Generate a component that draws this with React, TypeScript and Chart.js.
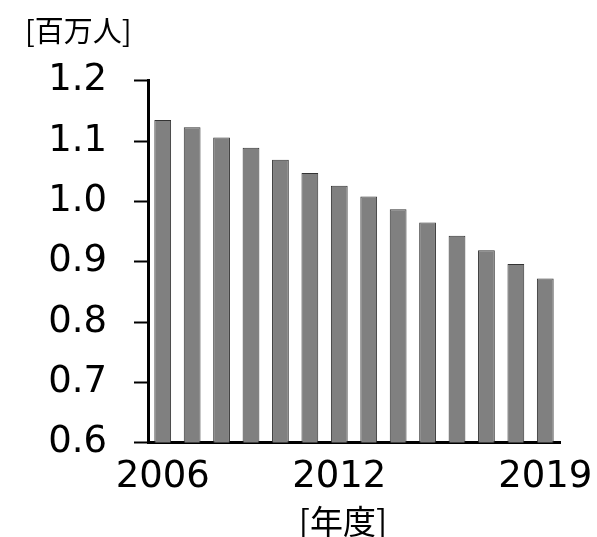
import React, { useEffect, useRef } from "react";
import { Chart, registerables } from "chart.js";

Chart.register(...registerables);

const years = ["2006", "2007", "2008", "2009", "2010", "2011", "2012", "2013", "2014", "2015", "2016", "2017", "2018", "2019"];
const values = [1.135, 1.123, 1.106, 1.089, 1.069, 1.047, 1.026, 1.008, 0.987, 0.965, 0.943, 0.919, 0.896, 0.872];
const shownYears = ["2006", "2012", "2019"];
const yMin = 0.6;
const yMax = 1.2;
const yStep = 0.1;
const yUnit = "[百万人]";
const xUnit = "[年度]";

const NUM_FONT = "'DejaVu Sans', Verdana, sans-serif";
const CJK_FONT = "'Noto Sans CJK JP', 'Noto Sans', sans-serif";

// draws the x-axis unit label centred slightly left of the plot centre, as in the source
const xUnitPlugin = {
  id: "xUnitLabel",
  afterDraw(chart: any) {
    const { ctx, chartArea, scales } = chart;
    const cx = (chartArea.left + chartArea.right) / 2 - 11;
    const cy = scales.x.bottom + 8;
    ctx.save();
    ctx.font = `33px ${CJK_FONT}`;
    ctx.fillStyle = "#000";
    ctx.textAlign = "center";
    ctx.textBaseline = "middle";
    ctx.fillText(xUnit, cx, cy);
    ctx.restore();
  },
};

export default function App() {
  const ref = useRef<HTMLCanvasElement | null>(null);

  useEffect(() => {
    if (!ref.current) return;
    const chart = new Chart(ref.current, {
      type: "bar",
      data: {
        labels: years,
        datasets: [
          {
            data: values,
            backgroundColor: "#808080",
            borderColor: "#333333",
            borderWidth: 1,
            barPercentage: 0.57,
            categoryPercentage: 1,
          },
        ],
      },
      plugins: [xUnitPlugin],
      options: {
        animation: false,
        responsive: false,
        devicePixelRatio: 1,
        layout: { padding: { left: 25, right: 37, top: 0, bottom: 47 } },
        plugins: {
          legend: { display: false },
          tooltip: { enabled: false },
          title: {
            display: true,
            text: yUnit,
            align: "start",
            color: "#000",
            font: { family: CJK_FONT, size: 29, weight: "normal" },
            padding: { top: 14, bottom: 32 },
          },
        },
        scales: {
          x: {
            type: "category",
            offset: true,
            grid: { display: true, drawOnChartArea: false, drawTicks: false },
            border: { display: true, color: "#000", width: 3 },
            ticks: {
              autoSkip: false,
              maxRotation: 0,
              minRotation: 0,
              color: "#000",
              padding: 13,
              font: { family: NUM_FONT, size: 37 },
              callback: (_v: any, i: number) => (shownYears.includes(years[i]) ? years[i] : ""),
            },
            afterFit: (s: any) => {
              s.paddingLeft = 0;
              s.paddingRight = 0;
            },
          },
          y: {
            min: yMin,
            max: yMax,
            grid: { display: true, drawOnChartArea: false, drawTicks: true, tickLength: 14, tickWidth: 2, tickColor: "#000" },
            border: { display: true, color: "#000", width: 3 },
            ticks: {
              stepSize: yStep,
              color: "#000",
              padding: 27,
              font: { family: NUM_FONT, size: 37 },
              callback: (v: any) => Number(v).toFixed(1),
            },
            afterFit: (s: any) => {
              s.width = 123;
              s.paddingTop = 0;
              s.paddingBottom = 0;
            },
          },
        },
      },
    });
    return () => chart.destroy();
  }, []);

  return (
    <div style={{ position: "fixed", left: 0, top: 0, width: 597, height: 537, overflow: "hidden", background: "#fff" }}>
      <canvas ref={ref} width={597} height={560} style={{ display: "block" }} />
    </div>
  );
}
